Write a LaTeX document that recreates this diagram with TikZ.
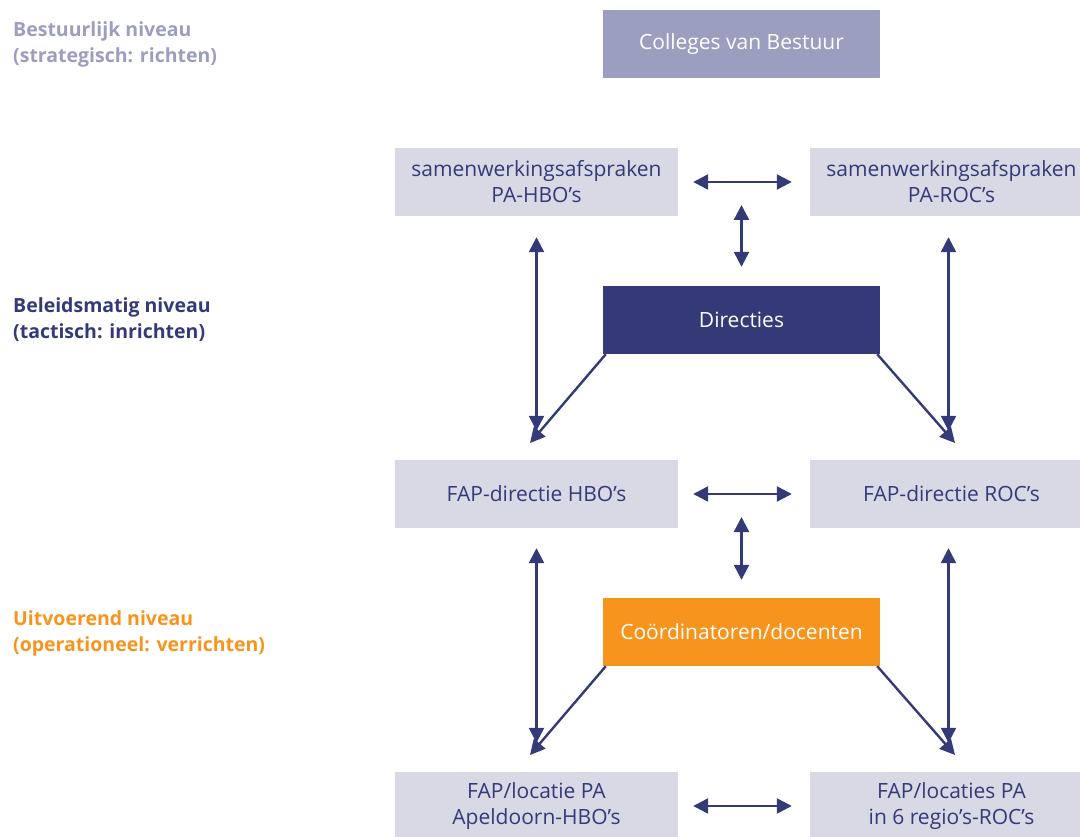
\documentclass[tikz,border=0pt]{standalone}
\usepackage{fontspec}
\setmainfont{Open Sans}
\usetikzlibrary{arrows.meta,positioning}
\definecolor{navy}{RGB}{52,58,120}
\definecolor{lilac}{RGB}{156,158,192}
\definecolor{lightbox}{RGB}{216,217,228}
\definecolor{oranje}{RGB}{247,148,30}
\tikzset{
  box/.style={minimum width=283pt,minimum height=68pt,inner sep=0pt,align=center,
    fill=lightbox,text=navy,font=\fontsize{21}{26}\selectfont},
  topbox/.style={box,minimum width=277pt,text=white},
  level/.style={anchor=west,align=left,inner sep=0pt,font=\bfseries\fontsize{19.5}{26}\selectfont},
  link/.style={navy,line width=2.4pt,{Triangle[length=15pt,width=15pt]}-{Triangle[length=15pt,width=15pt]}},
  oneway/.style={navy,line width=2.4pt,-{Triangle[length=15pt,width=15pt]}}
}
\begin{document}
\begin{tikzpicture}[x=1pt,y=-1pt]
	\useasboundingbox (0,0) rectangle (1080,837);
	\clip (0,0) rectangle (1080,837);
	
	% niveaus
	\node[level,text=lilac] (bestuur) at (13,44) {Bestuurlijk niveau\\(strategisch: richten)};
	\node[level,text=navy] (beleid) at (13,320) {Beleidsmatig niveau\\(tactisch: inrichten)};
	\node[level,text=oranje] (uitvoer) at (13,633) {Uitvoerend niveau\\(operationeel: verrichten)};
	
	% boxes
	\node[topbox,fill=lilac] (colleges) at (741.5,44) {Colleges van Bestuur};
	\node[box] (samhbo) at (536.5,182) {samenwerkingsafspraken\\PA-HBO's};
	\node[box] (samroc) at (951.5,182) {samenwerkingsafspraken\\PA-ROC's};
	\node[topbox,fill=navy] (directies) at (741.5,320) {Directies};
	\node[box] (faphbo) at (536.5,494) {FAP-directie HBO's};
	\node[box] (faproc) at (951.5,494) {FAP-directie ROC's};
	\node[topbox,fill=oranje] (coord) at (741.5,632) {Coördinatoren/docenten};
	\node[box] (lochbo) at (536.5,806) {FAP/locatie PA\\Apeldoorn-HBO's};
	\node[box] (locroc) at (951.5,806) {FAP/locaties PA\\in 6 regio's-ROC's};
	
	\coordinate (m1) at (741.5,205);
	\coordinate (m2) at (741.5,517);
	\coordinate (d1) at (530,443);
	\coordinate (d2) at (955,443);
	\coordinate (d3) at (530,755);
	\coordinate (d4) at (955,755);
	
	% beleid
	\draw[link] ([xshift=15pt]samhbo.east) -- ([xshift=-18pt]samroc.west);
	\draw[link] (m1) -- ([yshift=19pt]directies.north);
	\draw[link] ([yshift=-21pt]samhbo.south) -- ([yshift=29pt]faphbo.north);
	\draw[link] ([xshift=-3pt,yshift=-21pt]samroc.south) -- ([xshift=-3pt,yshift=29pt]faproc.north);
	\draw[oneway] ([xshift=3pt]directies.south west) -- (d1);
	\draw[oneway] ([xshift=-3pt]directies.south east) -- (d2);
	
	% uitvoer
	\draw[link] ([xshift=15pt]faphbo.east) -- ([xshift=-18pt]faproc.west);
	\draw[link] (m2) -- ([yshift=18pt]coord.north);
	\draw[link] ([yshift=-20pt]faphbo.south) -- ([yshift=29pt]lochbo.north);
	\draw[link] ([xshift=-3pt,yshift=-20pt]faproc.south) -- ([xshift=-3pt,yshift=29pt]locroc.north);
	\draw[oneway] ([xshift=3pt]coord.south west) -- (d3);
	\draw[oneway] ([xshift=-3pt]coord.south east) -- (d4);
	\draw[link] ([xshift=15pt]lochbo.east) -- ([xshift=-18pt]locroc.west);
\end{tikzpicture}
\end{document}
